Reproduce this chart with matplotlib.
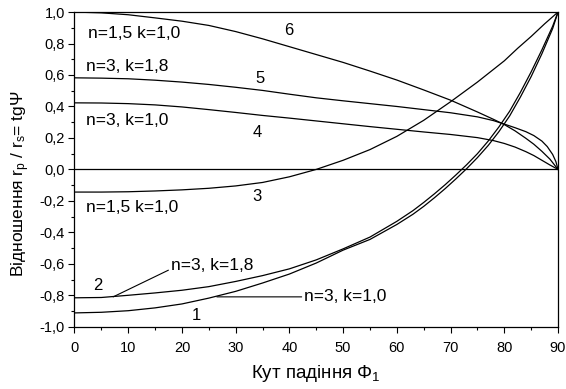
import numpy as np
import matplotlib.pyplot as plt
from matplotlib.ticker import MultipleLocator, FuncFormatter

plt.rcParams['font.family'] = ['Liberation Sans', 'DejaVu Sans']
plt.rcParams['mathtext.fontset'] = 'custom'
plt.rcParams['mathtext.rm'] = 'Liberation Sans'
plt.rcParams['mathtext.it'] = 'Liberation Sans:italic'

# values: angle of incidence (deg) -> rp/rs
phi1 = [0, 5, 10, 15, 20, 25, 30, 35, 40, 45, 50, 55, 60, 63, 65, 67, 69,
        71, 73, 75, 77, 79, 81, 83, 85, 87, 89, 90]
curve1 = [-0.912, -0.908, -0.898, -0.88, -0.855, -0.818, -0.775, -0.722,
          -0.665, -0.595, -0.513, -0.445, -0.35, -0.285, -0.235, -0.18,
          -0.122, -0.06, 0.005, 0.075, 0.152, 0.24, 0.34, 0.46, 0.59, 0.735,
          0.895, 1.0]

phi2 = [0, 5, 10, 15, 20, 25, 30, 35, 40, 45, 50, 55, 60, 63, 65, 67, 69,
        71, 73, 75, 77, 79, 81, 83, 85, 87, 89, 90]
curve2 = [-0.816, -0.814, -0.80, -0.785, -0.768, -0.745, -0.712, -0.675,
          -0.632, -0.575, -0.505, -0.43, -0.33, -0.262, -0.21, -0.155, -0.097,
          -0.035, 0.03, 0.10, 0.18, 0.27, 0.37, 0.49, 0.62, 0.76, 0.91, 1.0]

phi3 = [0, 5, 10, 15, 20, 25, 30, 35, 40, 45, 50, 55, 60, 65, 70, 75, 80,
        82.5, 85, 87.5, 90]
curve3 = [-0.144, -0.144, -0.142, -0.137, -0.13, -0.12, -0.105, -0.083,
          -0.047, 0.0, 0.058, 0.126, 0.21, 0.312, 0.43, 0.555, 0.69, 0.77,
          0.845, 0.925, 1.0]

phi4 = [0, 5, 10, 15, 20, 25, 30, 35, 40, 45, 50, 55, 60, 65, 70, 75, 78,
        80, 82, 84, 85.5, 87, 88.5, 90]
curve4 = [0.423, 0.422, 0.418, 0.41, 0.397, 0.38, 0.362, 0.343, 0.326, 0.308,
          0.29, 0.272, 0.255, 0.238, 0.222, 0.202, 0.183, 0.165, 0.142, 0.113,
          0.088, 0.058, 0.028, 0.0]

phi5 = [0, 5, 10, 15, 20, 25, 30, 35, 40, 45, 50, 55, 60, 65, 70, 75, 78,
        80, 82, 84, 85.5, 87, 88, 89, 89.6, 90]
curve5 = [0.582, 0.58, 0.576, 0.567, 0.555, 0.54, 0.522, 0.502, 0.478, 0.455,
          0.436, 0.418, 0.40, 0.38, 0.36, 0.334, 0.31, 0.288, 0.265, 0.24,
          0.215, 0.18, 0.145, 0.095, 0.05, 0.0]

phi6 = [0, 5, 10, 15, 20, 25, 30, 35, 40, 45, 50, 55, 60, 65, 70, 75, 78,
        80, 82, 84, 85.5, 87, 88.5, 90]
curve6 = [1.0, 0.995, 0.983, 0.963, 0.942, 0.915, 0.876, 0.83, 0.78, 0.73,
          0.68, 0.625, 0.568, 0.505, 0.44, 0.365, 0.318, 0.285, 0.245, 0.198,
          0.16, 0.115, 0.065, 0.0]

curves = [(phi1, curve1), (phi2, curve2), (phi3, curve3),
          (phi4, curve4), (phi5, curve5), (phi6, curve6)]

# curve numbers and their positions
numbers = ['1', '2', '3', '4', '5', '6']
number_x = [22.7, 4.4, 33.9, 34.0, 34.5, 39.8]
number_y = [-0.926, -0.735, -0.174, 0.233, 0.578, 0.881]

# parameter labels (left aligned)
params = ['n=1,5 k=1,0', 'n=3, k=1,8', 'n=3, k=1,0', 'n=1,5 k=1,0']
param_x = [2.5, 2.2, 2.2, 2.1]
param_y = [0.865, 0.652, 0.313, -0.242]

fig = plt.figure(figsize=(5.66, 3.89), dpi=100)
ax = fig.add_axes([0.1316, 0.160, 0.8543, 0.809])

for x, y in curves:
    ax.plot(x, y, color='black', lw=0.9)
ax.axhline(0, color='black', lw=0.9)

for t, x, y in zip(numbers, number_x, number_y):
    ax.text(x, y, t, fontsize=12, ha='center', va='center')
for t, x, y in zip(params, param_x, param_y):
    ax.text(x, y, t, fontsize=12.5, ha='left', va='center')

# labels with leader lines
ax.annotate('n=3, k=1,8', xy=(7.2, -0.81), xytext=(18.0, -0.608),
            fontsize=12.5, ha='left', va='center',
            arrowprops=dict(arrowstyle='-', lw=0.8, color='black',
                            shrinkA=0, shrinkB=0, relpos=(0, 0.25)))
ax.annotate('n=3, k=1,0', xy=(26.5, -0.81), xytext=(42.8, -0.81),
            fontsize=12.5, ha='left', va='center',
            arrowprops=dict(arrowstyle='-', lw=0.8, color='black',
                            shrinkA=0, shrinkB=0, relpos=(0, 0.5)))

ax.set_xlim(0, 90)
ax.set_ylim(-1.0, 1.0)
ax.xaxis.set_major_locator(MultipleLocator(10))
ax.xaxis.set_minor_locator(MultipleLocator(5))
ax.yaxis.set_major_locator(MultipleLocator(0.2))
ax.yaxis.set_minor_locator(MultipleLocator(0.1))

def comma(v, pos):
    s = f"{v:.1f}".replace('.', ',')
    return "0,0" if s == "-0,0" else s

ax.yaxis.set_major_formatter(FuncFormatter(comma))
ax.tick_params(which='major', direction='out', length=4, width=0.8,
               labelsize=10.5, pad=3, top=False, right=False)
ax.tick_params(axis='x', which='major', pad=6)
ax.tick_params(which='minor', direction='out', length=2.2, width=0.8,
               top=False, right=False)
for s in ax.spines.values():
    s.set_linewidth(0.9)

ax.set_xlabel('Кут падіння Φ$_\\mathregular{1}$', fontsize=13.5, labelpad=6)
ax.set_ylabel('Відношення r$_\\mathregular{p}$ / r$_\\mathregular{s}$= tgΨ',
              fontsize=12.5)
ax.yaxis.set_label_coords(-0.088, 0.455)

fig.savefig('out.png', dpi=100)
